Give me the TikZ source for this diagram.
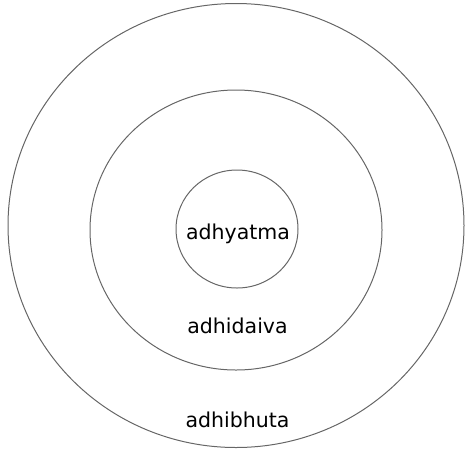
\documentclass[tikz,border=0pt]{standalone}
\usepackage{fontspec}
\setmainfont{DejaVu Sans}
\usepackage{xcolor}
\usepackage{tikz}
\definecolor{ring}{HTML}{666666}
\tikzset{
  layer/.style={draw=ring,line width=1pt},
  lbl/.style={font=\fontsize{20.5}{24}\selectfont,anchor=base,inner sep=0pt,text=black},
}
\begin{document}
\begin{tikzpicture}[x=1pt,y=-1pt]
\useasboundingbox (0,0) rectangle (465,448);
% rings, outer to inner
\draw[layer] (236,225.5) ellipse [x radius=228,y radius=222];
\draw[layer] (236,230) ellipse [x radius=146,y radius=140];
\draw[layer] (237,229) ellipse [x radius=61,y radius=59];
% labels
\node[lbl] (adhyatma) at (238,239.5) {adhyatma};
\node[lbl] (adhidaiva) at (237.5,333) {adhidaiva};
\node[lbl] (adhibhuta) at (237.5,427) {adhibhuta};
\end{tikzpicture}
\end{document}
